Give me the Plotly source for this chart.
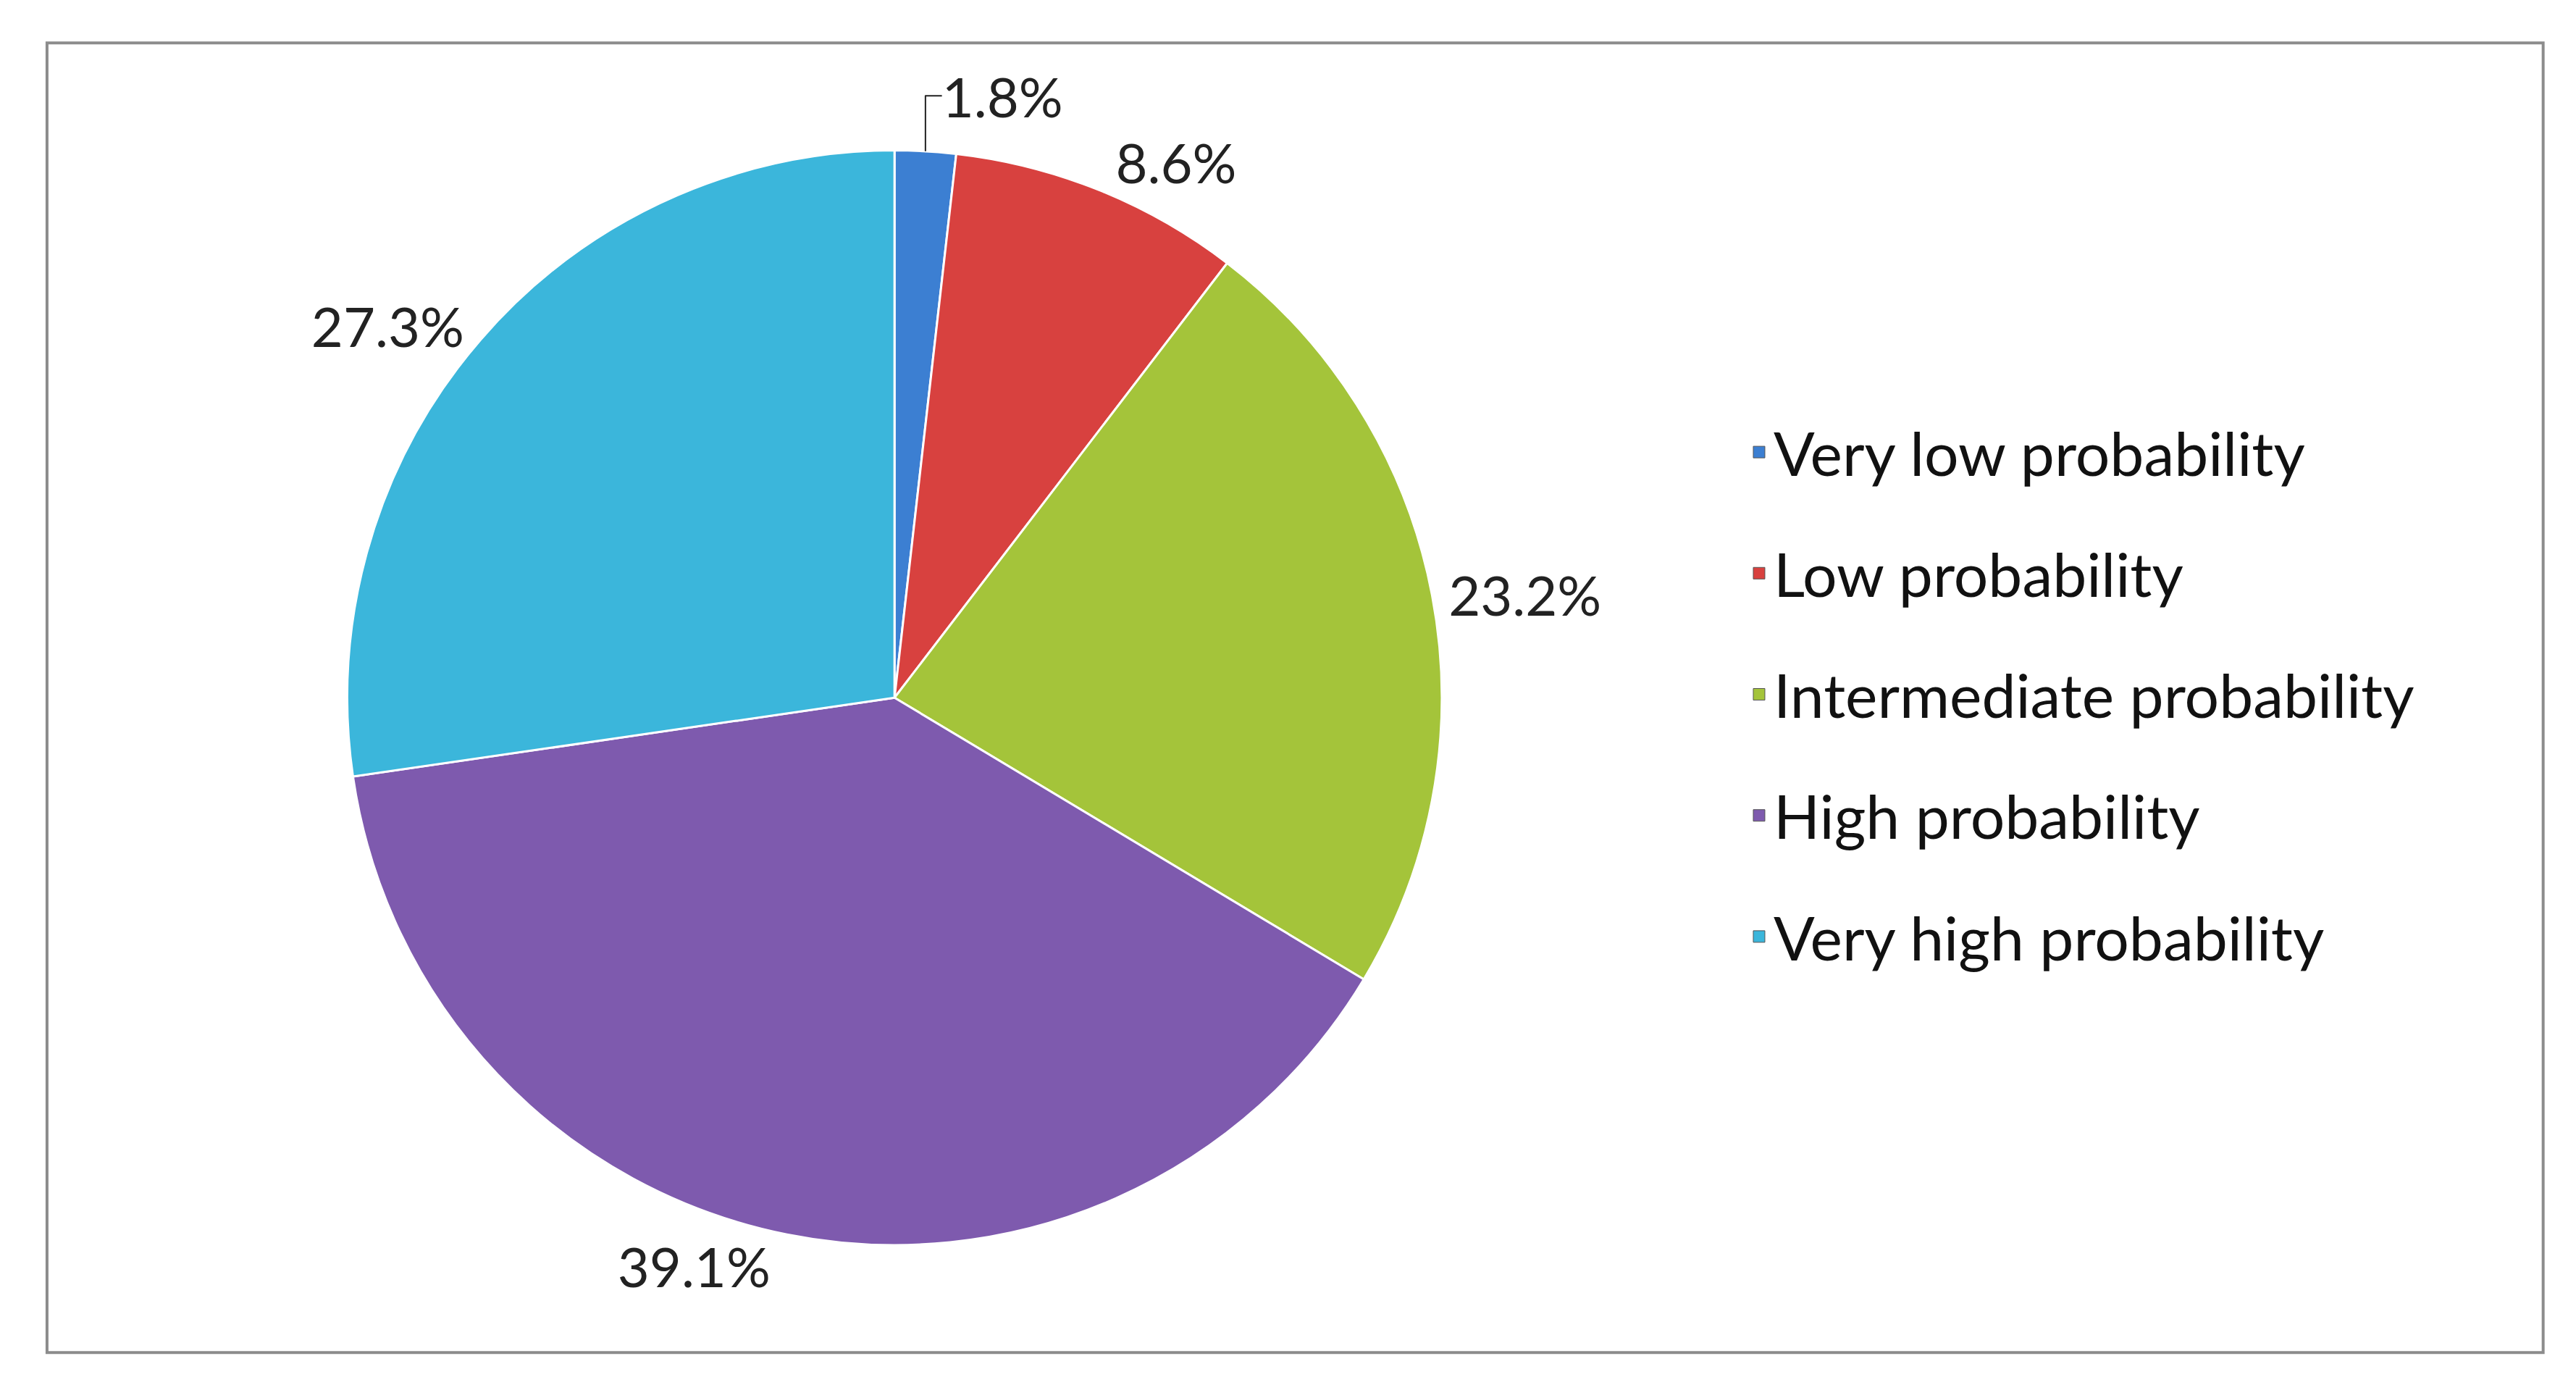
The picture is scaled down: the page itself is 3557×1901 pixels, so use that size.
import plotly.graph_objects as go

categories = ["Very low probability", "Low probability", "Intermediate probability",
              "High probability", "Very high probability"]
values = [1.8, 8.6, 23.2, 39.1, 27.3]
colors = ["#3C7FD2", "#D8413F", "#A4C43A", "#7E5AAE", "#3BB6DB"]

fig = go.Figure(go.Pie(
    labels=categories, values=values, sort=False, direction="clockwise", rotation=0,
    marker=dict(colors=colors, line=dict(color="white", width=3)),
    texttemplate="%{value:.1f}%", textposition="outside",
    textfont=dict(size=76, color="#222222", family="Lato"),
    domain=dict(x=[0.12, 0.57], y=[0.10, 0.895]),
    hoverinfo="label+percent", showlegend=False,
))
for name, c in zip(categories, colors):
    fig.add_trace(go.Scatter(
        x=[None], y=[None], mode="markers", name=name, legendgroup=name,
        marker=dict(symbol="square", size=30, color=c, line=dict(color="#555555", width=1)),
    ))
fig.update_layout(
    width=3557, height=1901, margin=dict(l=0, r=0, t=0, b=0),
    paper_bgcolor="white", plot_bgcolor="white",
    font=dict(family="Lato", color="#111111"),
    xaxis=dict(visible=False), yaxis=dict(visible=False),
    legend=dict(x=0.675, y=0.5, xanchor="left", yanchor="middle",
                font=dict(size=84, family="Lato"), tracegroupgap=55,
                itemsizing="trace"),
    shapes=[dict(type="rect", xref="paper", yref="paper", x0=0.016, x1=0.985,
                 y0=0.022, y1=0.973, line=dict(color="#8C8C8C", width=4))],
)
fig.write_html("out.html")
